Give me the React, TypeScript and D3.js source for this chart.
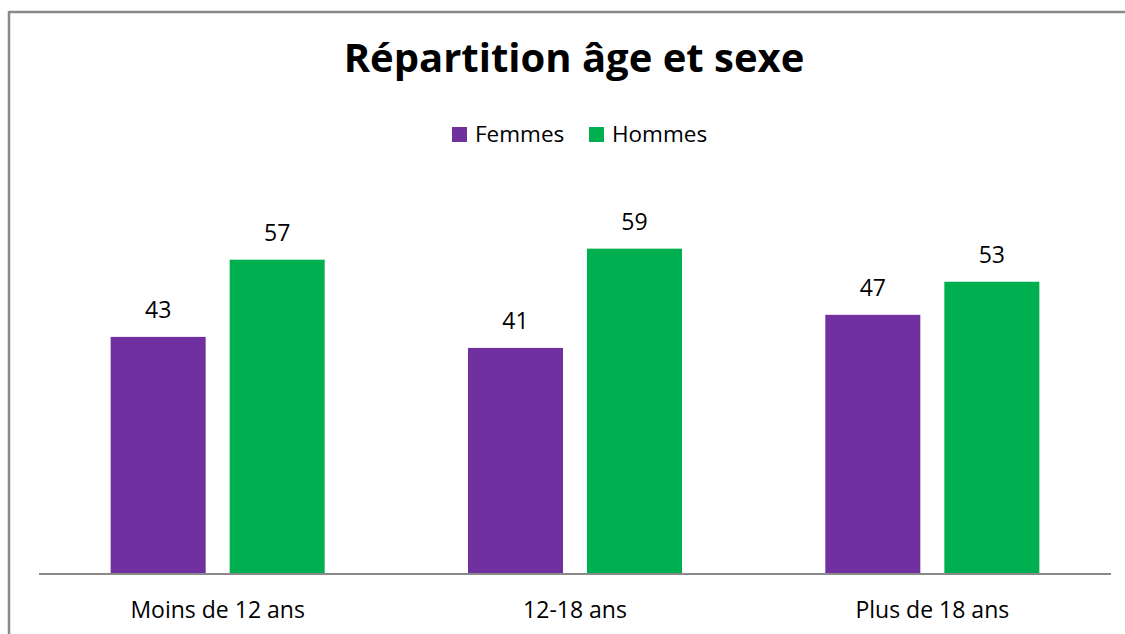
import React from 'react';
import * as d3 from 'd3';

// categories and series
const categories = ['Moins de 12 ans', '12-18 ans', 'Plus de 18 ans'];
const seriesNames = ['Femmes', 'Hommes'];
const femmes = [43, 41, 47];
const hommes = [57, 59, 53];
const seriesColors = ['#7030A0', '#00B050'];

const W = 1125;
const H = 634;
const font = '"Open Sans", Lato, sans-serif';

const App = () => {
  const values = [femmes, hommes];

  // outer band = category group, inner band = series
  const x0 = d3.scaleBand<string>()
    .domain(categories)
    .range([39, 1111])
    .paddingInner(0.401)
    .paddingOuter(0.2005);

  const x1 = d3.scaleBand<string>()
    .domain(seriesNames)
    .range([0, x0.bandwidth()])
    .paddingInner(0.2017);

  const y = d3.scaleLinear().domain([0, 70]).range([574, 188]);

  return (
    <div style={{ position: 'absolute', left: 0, top: 0 }}>
      <svg width={W} height={H} style={{ display: 'block', background: '#fff' }}>
        {/* chart border (top + left visible) */}
        <line x1={9} x2={W} y1={12} y2={12} stroke="#898989" strokeWidth={2.5} />
        <line x1={9} x2={9} y1={11} y2={H} stroke="#898989" strokeWidth={2.5} />

        <text x={574} y={72} textAnchor="middle" fontFamily={font} fontWeight="bold" fontSize={40} fill="#000">
          Répartition âge et sexe
        </text>

        {/* legend */}
        <g>
          <rect x={452} y={127} width={15} height={15} fill={seriesColors[0]} />
          <text x={475} y={142} fontFamily={font} fontSize={22.5} fill="#000">{seriesNames[0]}</text>
          <rect x={589} y={127} width={15} height={15} fill={seriesColors[1]} />
          <text x={612} y={142} fontFamily={font} fontSize={22.5} fill="#000">{seriesNames[1]}</text>
        </g>

        {/* bars */}
        {categories.map((c, i) => (
          <g key={c} transform={`translate(${x0(c)},0)`}>
            {seriesNames.map((s, j) => {
              const v = values[j][i];
              const bx = x1(s) as number;
              return (
                <g key={s}>
                  <rect x={bx} y={y(v)} width={x1.bandwidth()} height={y(0) - y(v)} fill={seriesColors[j]} />
                  <text x={bx + x1.bandwidth() / 2} y={y(v) - 19} textAnchor="middle" fontFamily={font} fontSize={23} fill="#000">
                    {v}
                  </text>
                </g>
              );
            })}
          </g>
        ))}

        {/* x axis */}
        <line x1={39} x2={1111} y1={y(0)} y2={y(0)} stroke="#898989" strokeWidth={2} />
        {categories.map((c) => (
          <text key={c} x={(x0(c) as number) + x0.bandwidth() / 2} y={618} textAnchor="middle" fontFamily={font} fontSize={23} fill="#000">
            {c}
          </text>
        ))}
      </svg>
    </div>
  );
};

export default App;
